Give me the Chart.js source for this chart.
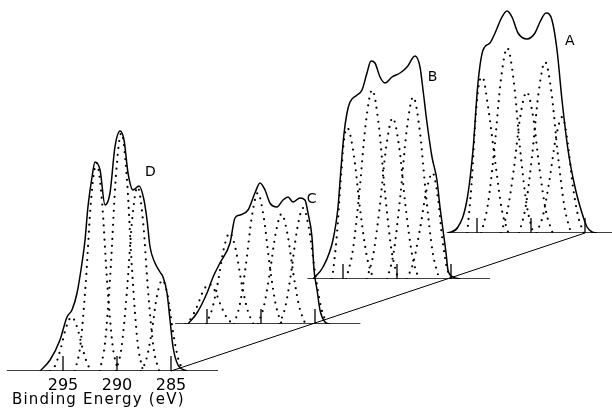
<!DOCTYPE html>
<html>
<head>
<meta charset="utf-8">
<script src="https://cdn.jsdelivr.net/npm/chart.js@4.4.1/dist/chart.umd.min.js"></script>
<style>
  html, body { margin: 0; padding: 0; background: #fff; }
  #fig { position: relative; width: 612px; height: 410px; overflow: hidden; background: #fff; }
  #fig canvas { position: absolute; left: 0; top: -20px; }
  #xtitle { position: absolute; left: 12px; top: 390px; font: 15px "DejaVu Sans"; letter-spacing: 1.2px; color: #000; white-space: nowrap; }
</style>
</head>
<body>
<div id="fig">
  <canvas id="cA" width="660" height="430"></canvas>
  <canvas id="cB" width="660" height="430"></canvas>
  <canvas id="cC" width="660" height="430"></canvas>
  <canvas id="cD" width="660" height="430"></canvas>
  <div id="xtitle">Binding Energy (eV)</div>
</div>
<script>
// binding energy axis (eV) and tick marks on every baseline
const energyRange = [280.5, 300.5];
const tickEnergies = [295, 290, 285];
const countMax = 244;

// envelope spectra (eV, counts a.u.)
const envD_eV = [297.13, 296.20, 295.28, 294.63, 294.17, 293.70, 293.24, 292.96, 292.69, 292.31, 292.04, 291.57, 291.11, 290.65, 290.19, 289.72, 289.35, 288.98, 288.52, 287.96, 287.50, 287.22, 286.94, 286.48, 286.02, 285.74, 285.37, 285.09, 284.81, 284.35, 283.52];
const envD = [0, 11, 31, 54, 61, 78, 108, 131, 164, 194, 209, 201, 166, 178, 224, 240, 231, 198, 181, 185, 171, 151, 124, 108, 99, 94, 78, 51, 24, 6, 0];

const envC_eV = [296.76, 295.93, 295.00, 294.44, 293.80, 292.87, 292.41, 291.94, 291.20, 290.56, 290.09, 289.63, 289.17, 288.52, 287.96, 287.50, 287.04, 286.39, 285.93, 285.65, 285.28, 285.09, 284.81, 284.54, 284.07, 283.61];
const envC = [0, 11, 31, 47, 61, 81, 106, 109, 114, 131, 141, 134, 121, 117, 124, 127, 122, 126, 124, 111, 87, 54, 34, 14, 2, 0];

const envB_eV = [297.78, 296.85, 295.93, 295.46, 295.19, 294.91, 294.63, 294.35, 293.70, 293.24, 292.78, 292.41, 292.04, 291.57, 291.11, 290.46, 289.72, 289.07, 288.33, 287.87, 287.59, 287.22, 286.76, 286.30, 286.02, 285.74, 285.46, 285.28, 284.81, 284.17];
const envB = [0, 12, 39, 72, 110, 145, 166, 177, 184, 189, 206, 218, 216, 202, 196, 202, 206, 212, 223, 212, 189, 156, 122, 99, 72, 49, 26, 9, 2, 0];

const envA_eV = [297.69, 296.76, 295.93, 295.37, 294.91, 294.44, 293.80, 293.33, 292.69, 292.22, 291.76, 291.20, 290.37, 289.63, 289.17, 288.61, 288.06, 287.59, 287.13, 286.57, 285.93, 285.28, 284.81, 284.35, 283.89];
const envA = [0, 6, 33, 83, 150, 183, 190, 200, 216, 222, 216, 200, 194, 200, 211, 220, 213, 183, 133, 83, 46, 20, 6, 1, 0];

// fitted component peaks (dotted), [eV, counts]
const peaksD = [
  [[296.2, 0], [295.7, 6], [295.2, 23], [294.7, 44], [294.2, 54], [293.7, 44], [293.2, 23], [292.7, 6], [292.2, 0]],
  [[293.9, 0], [293.4, 25], [292.9, 87], [292.4, 171], [291.9, 208], [291.4, 171], [290.9, 87], [290.4, 25], [289.9, 0]],
  [[291.6, 0], [291.1, 29], [290.6, 100], [290.1, 195], [289.6, 238], [289.1, 195], [288.6, 100], [288.1, 29], [287.6, 0]],
  [[290.1, 0], [289.6, 22], [289.1, 77], [288.6, 151], [288.1, 184], [287.6, 151], [287.1, 77], [286.6, 22], [286.1, 0]],
  [[287.8, 0], [287.3, 11], [286.8, 38], [286.3, 75], [285.8, 91], [285.3, 75], [284.8, 38], [284.3, 11], [283.8, 0]]
];
const peaksC = [
  [[297.0, 0], [296.45, 6], [295.9, 18], [295.35, 33], [294.8, 40], [294.25, 33], [293.7, 18], [293.15, 6], [292.6, 0]],
  [[295.1, 0], [294.55, 14], [294.0, 41], [293.45, 75], [292.9, 91], [292.35, 75], [291.8, 41], [291.25, 14], [290.7, 0]],
  [[292.5, 0], [291.95, 20], [291.4, 59], [290.85, 107], [290.3, 131], [289.75, 107], [289.2, 59], [288.65, 20], [288.1, 0]],
  [[290.3, 0], [289.75, 17], [289.2, 50], [288.65, 90], [288.1, 110], [287.55, 90], [287.0, 50], [286.45, 17], [285.9, 0]],
  [[288.3, 0], [287.75, 17], [287.2, 52], [286.65, 95], [286.1, 116], [285.55, 95], [285.0, 52], [284.45, 17], [283.9, 0]]
];
const peaksB = [
  [[296.0, 0], [295.6, 40], [295.2, 100], [294.9, 140], [294.6, 151], [294.0, 124], [293.4, 68], [292.8, 23], [292.2, 0]],
  [[294.7, 0], [294.1, 28], [293.5, 85], [292.9, 155], [292.3, 189], [291.7, 155], [291.1, 85], [290.5, 28], [289.9, 0]],
  [[292.8, 0], [292.2, 24], [291.6, 72], [291.0, 132], [290.4, 161], [289.8, 132], [289.2, 72], [288.6, 24], [288.0, 0]],
  [[290.9, 0], [290.3, 27], [289.7, 82], [289.1, 149], [288.5, 182], [287.9, 149], [287.3, 82], [286.7, 27], [286.1, 0]],
  [[289.1, 0], [288.5, 16], [287.9, 48], [287.3, 87], [286.7, 106], [286.2, 80], [285.8, 40], [285.4, 12], [285.0, 0]]
];
const peaksA = [
  [[295.9, 0], [295.5, 50], [295.1, 120], [294.8, 150], [294.5, 156], [294.0, 128], [293.3, 70], [292.7, 23], [292.1, 0]],
  [[294.6, 0], [294.0, 28], [293.4, 83], [292.8, 152], [292.2, 185], [291.6, 152], [291.0, 83], [290.4, 28], [289.8, 0]],
  [[292.8, 0], [292.2, 21], [291.6, 63], [291.0, 116], [290.4, 141], [289.8, 116], [289.2, 63], [288.6, 21], [288.0, 0]],
  [[291.1, 0], [290.5, 26], [289.9, 77], [289.3, 140], [288.7, 171], [288.1, 140], [287.5, 77], [286.9, 26], [286.3, 0]],
  [[289.5, 0], [288.9, 17], [288.3, 52], [287.7, 95], [287.1, 116], [286.6, 90], [286.1, 45], [285.6, 15], [285.1, 0]]
];

// scanned energy range of each baseline
const baseD = [300.2, 280.65];
const baseC = [297.95, 280.8];
const baseB = [298.3, 281.4];
const baseA = [297.8, 280.6];

// where each panel sits on the page (plot area left / bottom in canvas px)
const panelLayout = {
  A: { left: 417.6, bottom: 253, label: [286.4, 192] },
  B: { left: 283.6, bottom: 299, label: [286.7, 202] },
  C: { left: 147.6, bottom: 344, label: [285.3, 125] },
  D: { left: 3.6,   bottom: 391, label: [286.9, 199] }
};
const plotWidth = 216, plotHeight = 244, canvasW = 660, canvasH = 430, axisH = 24;

const toXY = (xs, ys) => xs.map((x, i) => ({ x: x, y: ys[i] }));
const fromPairs = arr => arr.map(p => ({ x: p[0], y: p[1] }));

const charts = {};

function makePanel(id, eV, counts, peaks, base, withAxis, extraPlugins) {
  const lay = panelLayout[id];
  const datasets = [];
  datasets.push({ data: [{ x: base[0], y: 0 }, { x: base[1], y: 0 }], borderWidth: 1.7 });
  tickEnergies.forEach(e => {
    datasets.push({ data: [{ x: e, y: 0 }, { x: e, y: 15 }], borderWidth: 1.3 });
  });
  peaks.forEach(pk => {
    datasets.push({
      data: fromPairs(pk), borderWidth: 2.2, borderDash: [0, 7],
      borderCapStyle: 'round', cubicInterpolationMode: 'monotone'
    });
  });
  datasets.push({ data: toXY(eV, counts), borderWidth: 1.5, cubicInterpolationMode: 'monotone' });

  const labelPlugin = {
    id: 'panelLabel',
    afterDatasetsDraw(chart) {
      const ctx = chart.ctx;
      ctx.save();
      ctx.fillStyle = '#000';
      ctx.font = '14px "DejaVu Sans"';
      ctx.textAlign = 'center';
      ctx.textBaseline = 'middle';
      ctx.fillText(id, chart.scales.x.getPixelForValue(lay.label[0]), chart.scales.y.getPixelForValue(lay.label[1]));
      ctx.restore();
    }
  };

  const xScale = {
    type: 'linear',
    reverse: true,
    min: energyRange[0],
    max: energyRange[1],
    display: withAxis,
    grid: { display: false },
    border: { display: false }
  };
  if (withAxis) {
    xScale.afterBuildTicks = s => { s.ticks = tickEnergies.map(v => ({ value: v })); };
    xScale.afterFit = s => { s.height = axisH; };
    xScale.ticks = {
      autoSkip: false, maxRotation: 0, padding: -3, color: '#000',
      font: { family: 'DejaVu Sans', size: 16 }
    };
  }

  const bottomPad = canvasH - lay.bottom - (withAxis ? axisH : 0);
  charts[id] = new Chart(document.getElementById('c' + id), {
    type: 'line',
    data: { datasets: datasets },
    options: {
      responsive: false,
      animation: false,
      devicePixelRatio: 1,
      events: [],
      layout: {
        padding: {
          left: lay.left,
          right: canvasW - lay.left - plotWidth,
          top: lay.bottom - plotHeight,
          bottom: bottomPad
        }
      },
      elements: {
        point: { radius: 0 },
        line: { borderColor: '#000', fill: false, tension: 0 }
      },
      plugins: { legend: { display: false }, tooltip: { enabled: false }, title: { display: false } },
      scales: {
        x: xScale,
        y: { type: 'linear', display: false, min: 0, max: countMax }
      }
    },
    plugins: [labelPlugin].concat(extraPlugins || [])
  });
}

makePanel('A', envA_eV, envA, peaksA, baseA, false);
makePanel('B', envB_eV, envB, peaksB, baseB, false);
makePanel('C', envC_eV, envC, peaksC, baseC, false);

// line joining the 285 eV ticks of all four baselines
const joinLine = {
  id: 'joinLine',
  afterDatasetsDraw(chart) {
    const a = charts.A;
    const ctx = chart.ctx;
    ctx.save();
    ctx.strokeStyle = '#000';
    ctx.lineWidth = 1;
    ctx.beginPath();
    ctx.moveTo(chart.scales.x.getPixelForValue(285), chart.scales.y.getPixelForValue(0));
    ctx.lineTo(a.scales.x.getPixelForValue(285), a.scales.y.getPixelForValue(0));
    ctx.stroke();
    ctx.restore();
  }
};
makePanel('D', envD_eV, envD, peaksD, baseD, true, [joinLine]);
</script>
</body>
</html>
